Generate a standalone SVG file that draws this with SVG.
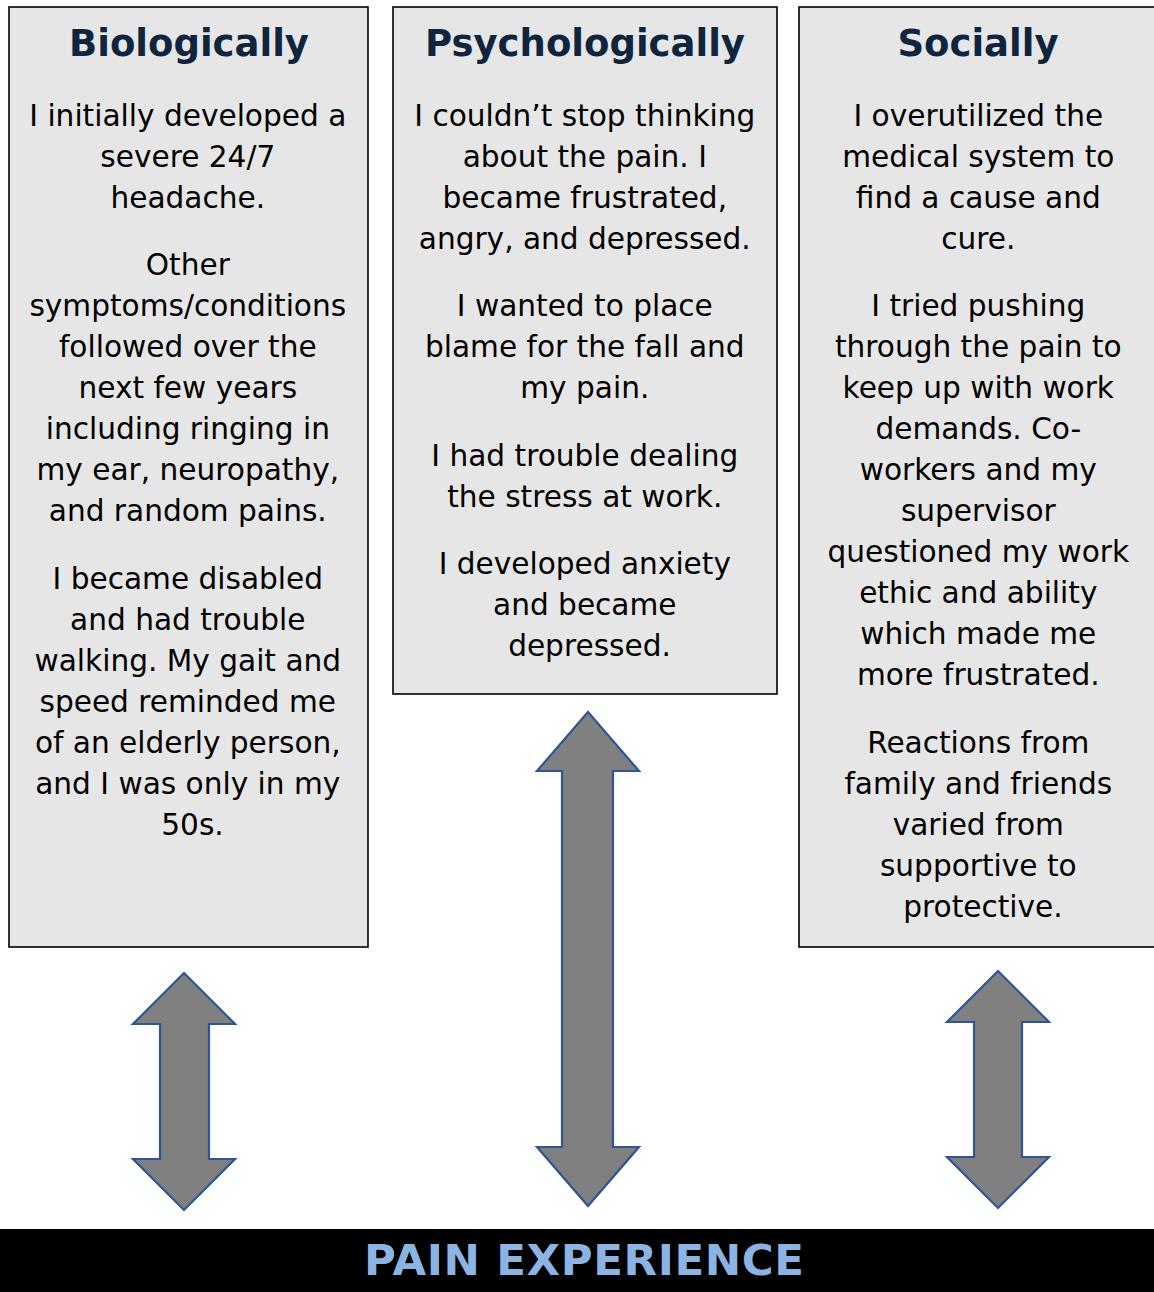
<svg xmlns="http://www.w3.org/2000/svg" width="1154" height="1292" viewBox="0 0 1154 1292">
<style>
.box{fill:#E6E6E6;stroke:#000;stroke-width:1.6}
.title{font-family:"DejaVu Sans",Verdana,sans-serif;font-weight:bold;font-size:37px;fill:#0F243E;text-anchor:middle}
.body{font-family:"DejaVu Sans",Verdana,sans-serif;font-size:29.6px;fill:#000;text-anchor:middle}
.arrow{fill:#808080;stroke:#2F5597;stroke-width:2.2;stroke-linejoin:miter}
.bar{fill:#000}
.bartext{font-family:"DejaVu Sans",Verdana,sans-serif;font-weight:bold;font-size:43.5px;fill:#8DB3E2;text-anchor:middle}
</style>
<rect width="1154" height="1292" fill="#fff"/>
<g id="biologically">
<rect class="box" x="9" y="7" width="359" height="940"/>
<text class="title" x="189" y="56">Biologically</text>
<text class="body">
<tspan x="192.5" y="126">I initially developed a</tspan>
<tspan x="192.5" y="167">severe 24/7</tspan>
<tspan x="192.5" y="208">headache.</tspan>
<tspan x="192.5" y="275">Other</tspan>
<tspan x="192.5" y="316">symptoms/conditions</tspan>
<tspan x="192.5" y="357">followed over the</tspan>
<tspan x="192.5" y="398">next few years</tspan>
<tspan x="192.5" y="439">including ringing in</tspan>
<tspan x="192.5" y="480">my ear, neuropathy,</tspan>
<tspan x="192.5" y="521">and random pains.</tspan>
<tspan x="192.5" y="589">I became disabled</tspan>
<tspan x="192.5" y="630">and had trouble</tspan>
<tspan x="192.5" y="671">walking. My gait and</tspan>
<tspan x="192.5" y="712">speed reminded me</tspan>
<tspan x="192.5" y="753">of an elderly person,</tspan>
<tspan x="192.5" y="794">and I was only in my</tspan>
<tspan x="192.5" y="835">50s.</tspan>
</text>
</g>
<g id="psychologically">
<rect class="box" x="393" y="7" width="384" height="687"/>
<text class="title" x="585" y="56">Psychologically</text>
<text class="body">
<tspan x="589.5" y="126">I couldn’t stop thinking</tspan>
<tspan x="589.5" y="167">about the pain. I</tspan>
<tspan x="589.5" y="208">became frustrated,</tspan>
<tspan x="589.5" y="249">angry, and depressed.</tspan>
<tspan x="589.5" y="316">I wanted to place</tspan>
<tspan x="589.5" y="357">blame for the fall and</tspan>
<tspan x="589.5" y="398">my pain.</tspan>
<tspan x="589.5" y="466">I had trouble dealing</tspan>
<tspan x="589.5" y="507">the stress at work.</tspan>
<tspan x="589.5" y="574">I developed anxiety</tspan>
<tspan x="589.5" y="615">and became</tspan>
<tspan x="589.5" y="656">depressed.</tspan>
</text>
</g>
<g id="socially">
<rect class="box" x="799" y="7" width="360" height="940"/>
<text class="title" x="978" y="56">Socially</text>
<text class="body">
<tspan x="983" y="126">I overutilized the</tspan>
<tspan x="983" y="167">medical system to</tspan>
<tspan x="983" y="208">find a cause and</tspan>
<tspan x="983" y="249">cure.</tspan>
<tspan x="983" y="316">I tried pushing</tspan>
<tspan x="983" y="357">through the pain to</tspan>
<tspan x="983" y="398">keep up with work</tspan>
<tspan x="983" y="439">demands. Co-</tspan>
<tspan x="983" y="480">workers and my</tspan>
<tspan x="983" y="521">supervisor</tspan>
<tspan x="983" y="562">questioned my work</tspan>
<tspan x="983" y="603">ethic and ability</tspan>
<tspan x="983" y="644">which made me</tspan>
<tspan x="983" y="685">more frustrated.</tspan>
<tspan x="983" y="753">Reactions from</tspan>
<tspan x="983" y="794">family and friends</tspan>
<tspan x="983" y="835">varied from</tspan>
<tspan x="983" y="876">supportive to</tspan>
<tspan x="983" y="917">protective.</tspan>
</text>
</g>
<g id="connectors">
<polygon class="arrow" points="184,973 235,1024 209,1024 209,1159 235,1159 184,1210 133,1159 160,1159 160,1024 133,1024"/>
<polygon class="arrow" points="588,712 639,771 613,771 613,1147 639,1147 588,1206 537,1147 562,1147 562,771 537,771"/>
<polygon class="arrow" points="998,971 1049,1022 1022,1022 1022,1157 1049,1157 998,1208 947,1157 974,1157 974,1022 947,1022"/>
</g>
<g id="pain-experience">
<rect class="bar" x="0" y="1229" width="1154" height="63"/>
<text class="bartext" x="584" y="1275" textLength="440" lengthAdjust="spacing">PAIN EXPERIENCE</text>
</g>
</svg>
